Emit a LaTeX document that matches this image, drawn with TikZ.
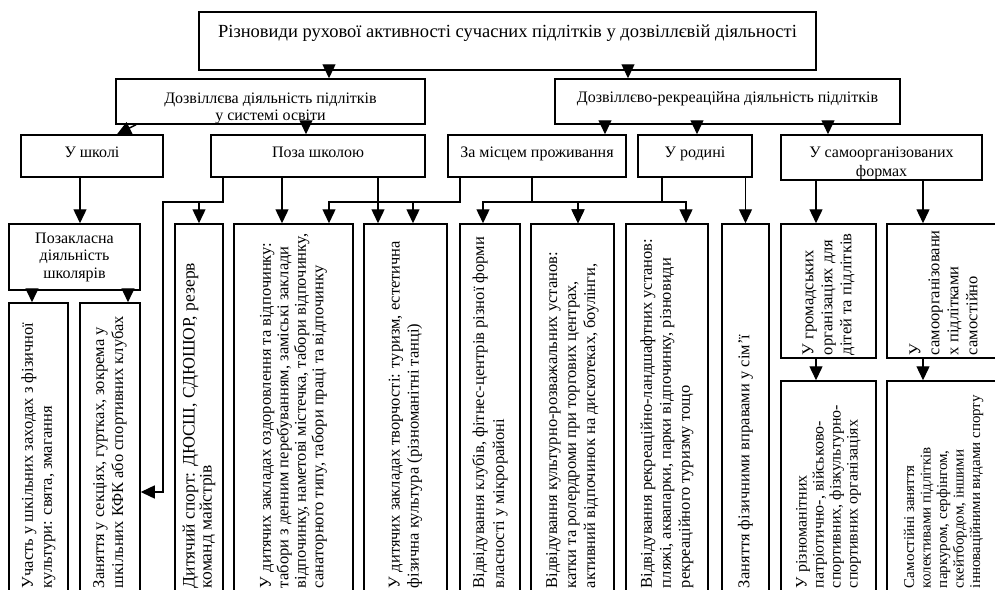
\documentclass[tikz,border=0pt]{standalone}
\usepackage{fontspec}
\setmainfont{Liberation Serif}
\usepackage{graphicx}
\usetikzlibrary{arrows.meta,calc}
\tikzset{
  catbox/.style={draw, line width=1.5pt, inner sep=0pt, align=center, font=\fontsize{16pt}{17pt}\selectfont},
  oneline/.style={catbox, text height=11pt, text depth=9pt},
  vbox/.style={draw, line width=1.5pt, inner sep=0pt},
  arr/.style={-{Triangle[length=14pt,width=13pt]}, line width=1.4pt},
}
% rotated text: line length, font size, leading, text
\newcommand{\vtext}[4]{\rotatebox{90}{\parbox{#1pt}{\fontsize{#2pt}{#3pt}\selectfont\raggedright #4}}}

\begin{document}
\begin{tikzpicture}[x=1pt,y=-1pt]
  \useasboundingbox (0,0) rectangle (995,589);
  \clip (0,0) rectangle (995,589);
  % Top levels
  \node[catbox, minimum width=617pt, minimum height=58pt, font=\fontsize{18.5pt}{20pt}\selectfont, text height=11pt, text depth=18pt] (title) at (507.5,41) {Різновиди рухової активності сучасних підлітків у дозвіллєвій діяльності};
  \node[catbox, minimum width=309pt, minimum height=45pt, text height=41pt] (dsyst) at (270.5,101.5) {Дозвіллєва діяльність підлітків\\у системі освіти};
  \node[oneline, minimum width=345pt, minimum height=45pt] (drekr) at (727.5,101.5) {Дозвіллєво-рекреаційна діяльність підлітків};
  \node[oneline, minimum width=142pt, minimum height=42pt] (shkola) at (92,156) {У школі};
  \node[oneline, minimum width=214pt, minimum height=42pt] (poza) at (318,156) {Поза школою};
  \node[oneline, minimum width=178pt, minimum height=42pt] (mistse) at (537,156) {За місцем проживання};
  \node[oneline, minimum width=114pt, minimum height=42pt] (rodyna) at (695,156) {У родині};
  \node[catbox, minimum width=201pt, minimum height=45pt, font=\fontsize{16pt}{19pt}\selectfont, text height=41pt] (samo) at (881.5,157.5) {У самоорганізованих\\формах};
  \node[catbox, minimum width=131pt, minimum height=66pt, font=\fontsize{16pt}{17.5pt}\selectfont] (pozakl) at (74.5,257) {Позакласна\\діяльність\\школярів};
  % Bottom row
  \node[vbox, minimum width=59pt, minimum height=289pt] (uchast) at (38.5,447.5) {\vtext{281}{16.5}{19}{Участь у шкільних заходах з фізичної\\культури: свята, змагання}};
  \node[vbox, minimum width=60pt, minimum height=289pt] (zanyat) at (110,447.5) {\vtext{281}{16.5}{19}{Заняття у секціях, гуртках, зокрема у\\шкільних КФК або спортивних клубах}};
  \node[vbox, minimum width=48pt, minimum height=368pt] (dytsp) at (199,408) {\vtext{360}{17.5}{17}{Дитячий спорт: ДЮСШ, СДЮШОР, резерв\\команд майстрів}};
  \node[vbox, minimum width=119pt, minimum height=368pt] (ozdor) at (293.5,408) {\vtext{360}{16.5}{17.5}{У дитячих закладах оздоровлення та відпочинку:\\табори з денним перебуванням, заміські заклади\\відпочинку, наметові містечка, табори відпочинку,\\санаторного типу, табори праці та відпочинку}};
  \node[vbox, minimum width=83pt, minimum height=368pt] (tvorch) at (405.5,408) {\vtext{360}{16.5}{19}{У дитячих закладах творчості: туризм, естетична\\фізична культура (різноманітні танці)}};
  \node[vbox, minimum width=60pt, minimum height=368pt] (kluby) at (490,408) {\vtext{360}{16.5}{20}{Відвідування клубів, фітнес-центрів різної форми\\власності у мікрорайоні}};
  \node[vbox, minimum width=83pt, minimum height=368pt] (rozvag) at (572.5,408) {\vtext{360}{16.5}{19}{Відвідування культурно-розважальних установ:\\катки та ролердроми при торгових центрах,\\активний відпочинок на дискотеках, боулінги,}};
  \node[vbox, minimum width=82pt, minimum height=368pt] (landsh) at (667,408) {\vtext{360}{16.5}{19}{Відвідування рекреаційно-ландшафтних установ:\\пляжі, аквапарки, парки відпочинку, різновиди\\рекреаційного туризму тощо}};
  \node[vbox, minimum width=47pt, minimum height=368pt] (simya) at (745.5,408) {\vtext{360}{16.5}{19}{Заняття фізичними вправами у сім’ї}};
  \node[vbox, minimum width=95pt, minimum height=134pt] (gromad) at (828.5,291) {\vtext{128}{16.5}{19}{У громадських\\організаціях для\\дітей та підлітків}};
  \node[vbox, minimum width=113pt, minimum height=134pt] (samorg) at (943.5,291) {\vtext{128}{16.5}{19}{У\\самоорганізовани\\х підлітками\\самостійно}};
  \node[vbox, minimum width=95pt, minimum height=211pt] (rizn) at (828.5,486.5) {\vtext{203}{16}{17}{У різноманітних\\патріотично-, військово-\\спортивних, фізкультурно-\\спортивних організаціях}};
  \node[vbox, minimum width=113pt, minimum height=211pt] (samost) at (943.5,486.5) {\vtext{203}{15}{16.5}{Самостійні заняття\\колективами підлітків\\паркуром, серфінгом,\\скейтбордом, іншими\\інноваційними видами спорту}};
  % Arrows
  \draw[arr] (title.south -| 329,0) -- (dsyst.north -| 329,0);
  \draw[arr] (title.south -| 628,0) -- (drekr.north -| 628,0);
  \draw[arr] (dsyst.south -| 136,0) -- (shkola.north -| 117,0);
  \draw[arr] (dsyst.south -| 306,0) -- (poza.north -| 306,0);
  \draw[arr] (drekr.south -| 605,0) -- (mistse.north -| 605,0);
  \draw[arr] (drekr.south -| 697,0) -- (rodyna.north -| 697,0);
  \draw[arr] (drekr.south -| 828,0) -- (samo.north -| 828,0);
  \draw[arr] (shkola.south -| 80,0) -- (pozakl.north -| 80,0);
  \draw[arr] (pozakl.south -| 32,0) -- (uchast.north -| 32,0);
  \draw[arr] (pozakl.south -| 128,0) -- (zanyat.north -| 128,0);
  \draw[arr] (poza.south -| 223,0) -- (223,202) -| (dytsp.north);
  \draw[arr] (poza.south -| 223,0) -- (223,202) -- (163,202) |- (zanyat.east |- 0,492);
  \draw[arr] (poza.south -| 282,0) -- (ozdor.north -| 282,0);
  \draw[arr] (poza.south -| 378,0) -- (tvorch.north -| 378,0);
  \draw[arr] (mistse.south -| 460,0) -- (460,202) -| (ozdor.north -| 329,0);
  \draw[arr] (mistse.south -| 460,0) -- (460,202) -| (tvorch.north -| 413,0);
  \draw[arr] (mistse.south -| 532,0) -- (532,202) -| (kluby.north -| 483,0);
  \draw[arr] (mistse.south -| 532,0) -- (532,202) -| (rozvag.north -| 578,0);
  \draw[arr] (rodyna.south -| 662,0) -- (662,202) -| (rozvag.north -| 578,0);
  \draw[arr] (rodyna.south -| 662,0) -- (662,202) -| (landsh.north -| 686,0);
  \draw[arr] (rodyna.south -| 745.5,0) -- (simya.north);
  \draw[arr] (samo.south -| 816,0) -- (gromad.north -| 816,0);
  \draw[arr] (samo.south -| 923,0) -- (samorg.north -| 923,0);
  \draw[arr] (gromad.south -| 816,0) -- (rizn.north -| 816,0);
  \draw[arr] (samorg.south -| 923,0) -- (samost.north -| 923,0);
\end{tikzpicture}
\end{document}
